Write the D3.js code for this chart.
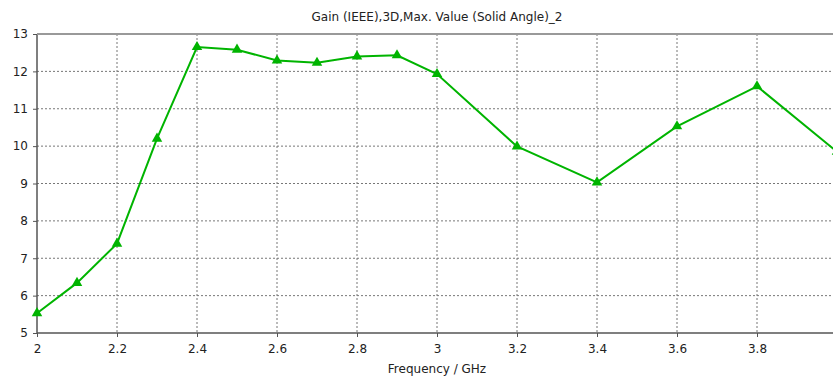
<!DOCTYPE html>
<html>
<head>
<meta charset="utf-8">
<script src="https://cdn.jsdelivr.net/npm/d3@7"></script>
<style>
  body { margin: 0; background: #fff; }
  text { font-family: Tahoma, "DejaVu Sans", sans-serif; fill: #222; }
</style>
</head>
<body>
<div id="chart"></div>
<script>
// data
const freqs = [2, 2.1, 2.2, 2.3, 2.4, 2.5, 2.6, 2.7, 2.8, 2.9, 3, 3.2, 3.4, 3.6, 3.8, 4];
const gain = [5.53, 6.34, 7.39, 10.2, 12.65, 12.58, 12.29, 12.23, 12.4, 12.43, 11.93, 9.99, 9.03, 10.53, 11.6, 9.85];
const xTicks = [2, 2.2, 2.4, 2.6, 2.8, 3, 3.2, 3.4, 3.6, 3.8];
const yTicks = [5, 6, 7, 8, 9, 10, 11, 12, 13];
const title = 'Gain (IEEE),3D,Max. Value (Solid Angle)_2';
const xLabel = 'Frequency / GHz';

const W = 833, H = 376;
const margin = { top: 34, right: -4, bottom: 43, left: 37 },
	width = W - margin.left - margin.right,
	height = H - margin.top - margin.bottom;

const svg = d3.select('#chart').append('svg')
	.attr('width', W).attr('height', H);

const g = svg.append('g')
	.attr('transform', `translate(${margin.left},${margin.top})`);

const x = d3.scaleLinear().domain([2, 4]).range([0, width]);
const y = d3.scaleLinear().domain([5, 13]).range([height, 0]);

// grid
g.append('g').selectAll('line').data(xTicks.slice(1)).join('line')
	.attr('x1', d => x(d)).attr('x2', d => x(d))
	.attr('y1', 0).attr('y2', height)
	.attr('stroke', '#777').attr('stroke-dasharray', '2,2');
g.append('g').selectAll('line').data(yTicks.slice(1, -1)).join('line')
	.attr('x1', 0).attr('x2', width)
	.attr('y1', d => y(d)).attr('y2', d => y(d))
	.attr('stroke', '#777').attr('stroke-dasharray', '2,2');

// axes
const xAxis = g.append('g')
	.attr('transform', `translate(0,${height})`)
	.call(d3.axisBottom(x).tickValues(xTicks).tickFormat(d3.format('')).tickSize(4).tickPadding(7));
const yAxis = g.append('g')
	.call(d3.axisLeft(y).tickValues(yTicks).tickSize(4).tickPadding(5));
[xAxis, yAxis].forEach(a => {
	a.select('.domain').remove();
	a.selectAll('line').attr('stroke', '#555');
	a.selectAll('text').attr('font-size', 12).attr('font-family', 'Tahoma, "DejaVu Sans", sans-serif').attr('fill', '#222');
});

// frame lines
g.append('line').attr('x1', 0).attr('x2', 0).attr('y1', 0).attr('y2', height)
	.attr('stroke', '#555').attr('stroke-width', 1.5);
g.append('line').attr('x1', 0).attr('x2', width).attr('y1', height).attr('y2', height)
	.attr('stroke', '#555').attr('stroke-width', 1.5);
g.append('line').attr('x1', 0).attr('x2', width).attr('y1', 0).attr('y2', 0)
	.attr('stroke', '#999').attr('stroke-width', 2);

// the line
g.append('path')
	.datum(freqs.map((f, i) => [f, gain[i]]))
	.attr('fill', 'none')
	.attr('stroke', '#00b400')
	.attr('stroke-width', 2)
	.attr('d', d3.line().x(d => x(d[0])).y(d => y(d[1])));

// triangle markers
g.append('g').selectAll('path').data(freqs.map((f, i) => [f, gain[i]])).join('path')
	.attr('transform', d => `translate(${x(d[0])},${y(d[1])})`)
	.attr('d', d3.symbol().type(d3.symbolTriangle).size(48))
	.attr('fill', '#00b400');

// title and axis label
svg.append('text').attr('x', 437).attr('y', 21)
	.attr('text-anchor', 'middle').attr('font-size', 12).text(title);
svg.append('text').attr('x', 437).attr('y', 373)
	.attr('text-anchor', 'middle').attr('font-size', 12).text(xLabel);
</script>
</body>
</html>
